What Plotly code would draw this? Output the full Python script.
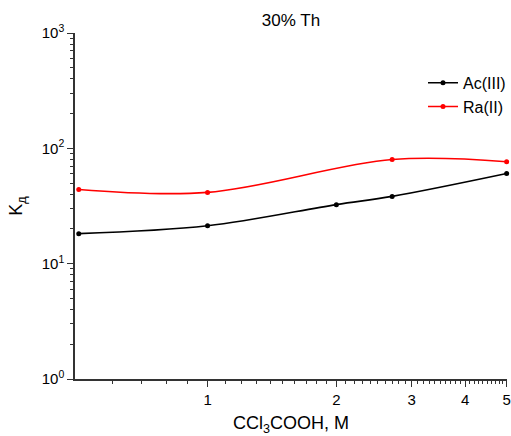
import numpy as np
import plotly.graph_objects as go

# Data
ac_x = [0.5, 1, 2, 2.7, 5]
ac_y = [18.2, 21.3, 32.5, 38.3, 60.5]
ra_x = [0.5, 1, 2.7, 5]
ra_y = [44.0, 41.5, 80.0, 76.5]

y_tickvals = [1, 10, 100, 1000]
y_ticktext = ["10<sup>0</sup>", "10<sup>1</sup>", "10<sup>2</sup>", "10<sup>3</sup>"]
x_tickvals = [1, 2, 3, 4, 5]
x_ticktext = ["1", "2", "3", "4", "5"]

x_minor = [0.6, 0.7, 0.8, 0.9] + [round(1 + 0.1 * i, 1) for i in range(1, 41)
                                  if abs((1 + 0.1 * i) - round(1 + 0.1 * i)) > 1e-6]
y_minor = [m * 10 ** e for e in range(0, 3) for m in range(2, 10)]

FONT = "Arial, Liberation Sans, sans-serif"

fig = go.Figure()
fig.add_trace(go.Scatter(
    x=ac_x, y=ac_y, name="Ac(III)", mode="lines+markers",
    line=dict(color="black", width=1.6, shape="spline", smoothing=1.0),
    marker=dict(color="black", size=5), cliponaxis=False,
))
fig.add_trace(go.Scatter(
    x=ra_x, y=ra_y, name="Ra(II)", mode="lines+markers",
    line=dict(color="#ff0000", width=1.6, shape="spline", smoothing=1.0),
    marker=dict(color="#ff0000", size=5), cliponaxis=False,
))

axis_common = dict(
    showline=True, linecolor="#333333", linewidth=1.5,
    ticks="outside", tickcolor="#333333", tickwidth=1.2,
    showgrid=False, zeroline=False, mirror=False, automargin=False,
    tickfont=dict(family=FONT, size=15, color="black"),
)

fig.update_layout(
    width=511, height=436,
    margin=dict(l=75, r=4, t=33, b=57, autoexpand=False),
    paper_bgcolor="white", plot_bgcolor="white",
    font=dict(family=FONT, size=15, color="black"),
    title=dict(text="30% Th", x=0.5, xref="paper", y=0.955, yref="container",
               xanchor="center", yanchor="middle",
               font=dict(family=FONT, size=17, color="black")),
    showlegend=True,
    legend=dict(x=1.0, xref="container", xanchor="right", y=0.905, yanchor="top",
                font=dict(family=FONT, size=16, color="black"),
                bgcolor="rgba(0,0,0,0)", tracegroupgap=0),
    xaxis=dict(
        type="log", range=[np.log10(0.49), np.log10(5.01)],
        tickmode="array", tickvals=x_tickvals, ticktext=x_ticktext, ticklen=6,
        minor=dict(tickmode="array", tickvals=x_minor, ticks="outside", ticklen=3,
                   tickcolor="#333333", tickwidth=1),
        title=dict(text="CCl<sub>3</sub>COOH, M", standoff=12,
                   font=dict(family=FONT, size=18, color="black")),
        **axis_common,
    ),
    yaxis=dict(
        type="log", range=[0, 3],
        tickmode="array", tickvals=y_tickvals, ticktext=y_ticktext, ticklen=6,
        minor=dict(tickmode="array", tickvals=y_minor, ticks="outside", ticklen=3,
                   tickcolor="#333333", tickwidth=1),
        title=dict(text="K<sub>д</sub>", standoff=14,
                   font=dict(family=FONT, size=18, color="black")),
        **axis_common,
    ),
)

fig.write_html("out.html", config={"displayModeBar": False},
               post_script="document.body.style.margin='0';document.body.style.overflow='hidden';")
